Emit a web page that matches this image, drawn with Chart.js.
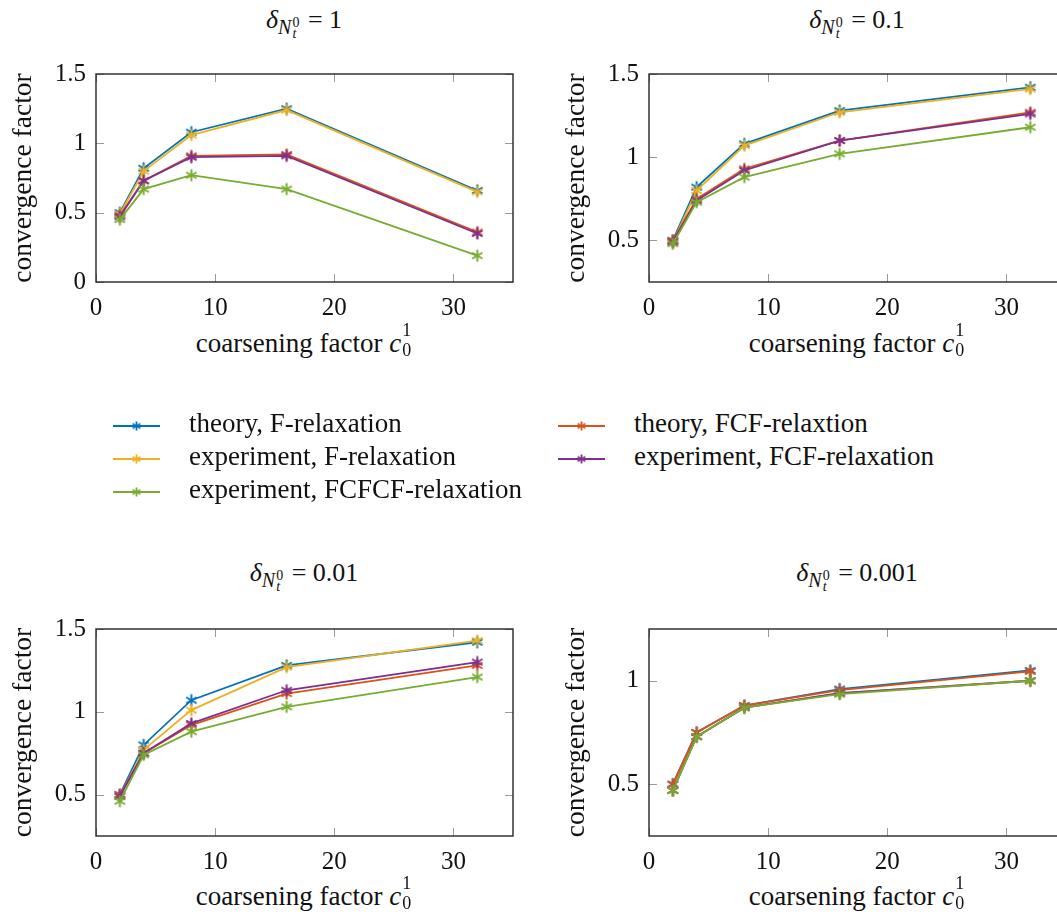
<!DOCTYPE html>
<html><head><meta charset="utf-8">
<script src="https://cdn.jsdelivr.net/npm/chart.js@4.4.1/dist/chart.umd.min.js"></script>
<style>
html,body{margin:0;padding:0;background:#fff;overflow:hidden;}
#wrap{position:relative;width:1057px;height:912px;overflow:hidden;background:#fff;}
canvas.pc{position:absolute;}
.t{position:absolute;transform:translateX(-50%);font-family:'Liberation Serif',serif;font-size:27px;line-height:30px;white-space:nowrap;color:#111;}
.tt{font-size:26px;}
.sb{font-size:20px;position:relative;top:6px;}
.stk{display:inline-block;position:relative;width:10px;height:10px;}
.stk .up{position:absolute;left:1px;top:-8px;font-size:14px;line-height:14px;font-style:normal;}
.stk .dn{position:absolute;left:1px;top:3px;font-size:14px;line-height:14px;font-style:italic;}
.xs{display:inline-block;position:relative;width:11px;height:10px;}
.xs .up{position:absolute;left:1px;top:-21px;font-size:18px;line-height:18px;}
.xs .dn{position:absolute;left:1px;top:-1px;font-size:18px;line-height:18px;}
.lg{position:absolute;height:30px;font-family:'Liberation Serif',serif;font-size:27px;line-height:30px;white-space:nowrap;color:#111;}
.lg canvas{position:absolute;left:0;top:8px;}
.lg span{position:absolute;left:76px;top:0;}
</style></head><body><div id="wrap">
<canvas id="c1" class="pc"></canvas>
<canvas id="c2" class="pc"></canvas>
<canvas id="c3" class="pc"></canvas>
<canvas id="c4" class="pc"></canvas>
<div class="t tt" style="left:304px;top:5px"><i>δ</i><span class="sb"><i>N</i><span class="stk"><span class="up">0</span><span class="dn">t</span></span></span> = 1</div>
<div class="t tt" style="left:857px;top:5px"><i>δ</i><span class="sb"><i>N</i><span class="stk"><span class="up">0</span><span class="dn">t</span></span></span> = 0.1</div>
<div class="t tt" style="left:304px;top:558px"><i>δ</i><span class="sb"><i>N</i><span class="stk"><span class="up">0</span><span class="dn">t</span></span></span> = 0.01</div>
<div class="t tt" style="left:857px;top:558px"><i>δ</i><span class="sb"><i>N</i><span class="stk"><span class="up">0</span><span class="dn">t</span></span></span> = 0.001</div>
<div class="t" style="left:304px;top:328px">coarsening factor <i>c</i><span class="xs"><span class="up">1</span><span class="dn">0</span></span></div>
<div class="t" style="left:857px;top:328px">coarsening factor <i>c</i><span class="xs"><span class="up">1</span><span class="dn">0</span></span></div>
<div class="t" style="left:304px;top:881px">coarsening factor <i>c</i><span class="xs"><span class="up">1</span><span class="dn">0</span></span></div>
<div class="t" style="left:857px;top:881px">coarsening factor <i>c</i><span class="xs"><span class="up">1</span><span class="dn">0</span></span></div>
<div id="legend"></div>
</div>
<script>
// ---------- data ----------
const coarsening = [2, 4, 8, 16, 32];
const xTickValues = [0, 10, 20, 30];

const seriesLabels = ['theory, F-relaxation', 'experiment, F-relaxation', 'experiment, FCFCF-relaxation',
                      'theory, FCF-relaxtion', 'experiment, FCF-relaxation'];

// delta = 1
const theoryF_1     = [0.50, 0.82, 1.08, 1.25, 0.66];
const expF_1        = [0.49, 0.80, 1.06, 1.24, 0.65];
const expFCFCF_1    = [0.45, 0.67, 0.77, 0.67, 0.19];
const theoryFCF_1   = [0.48, 0.73, 0.91, 0.92, 0.36];
const expFCF_1      = [0.47, 0.73, 0.90, 0.91, 0.35];
const yTicks_1      = [0, 0.5, 1, 1.5];

// delta = 0.1
const theoryF_2     = [0.50, 0.82, 1.08, 1.28, 1.42];
const expF_2        = [0.49, 0.80, 1.07, 1.27, 1.41];
const expFCFCF_2    = [0.48, 0.73, 0.88, 1.02, 1.18];
const theoryFCF_2   = [0.50, 0.75, 0.93, 1.10, 1.27];
const expFCF_2      = [0.49, 0.74, 0.92, 1.10, 1.26];
const yTicks_2      = [0.5, 1, 1.5];

// delta = 0.01
const theoryF_3     = [0.50, 0.80, 1.07, 1.28, 1.42];
const expF_3        = [0.49, 0.77, 1.01, 1.27, 1.43];
const expFCFCF_3    = [0.46, 0.74, 0.88, 1.03, 1.21];
const theoryFCF_3   = [0.50, 0.75, 0.92, 1.11, 1.28];
const expFCF_3      = [0.49, 0.75, 0.93, 1.13, 1.30];
const yTicks_3      = [0.5, 1, 1.5];

// delta = 0.001
const theoryF_4     = [0.50, 0.75, 0.88, 0.96, 1.05];
const expF_4        = [0.47, 0.73, 0.87, 0.94, 1.00];
const expFCFCF_4    = [0.47, 0.73, 0.87, 0.935, 1.00];
const theoryFCF_4   = [0.50, 0.75, 0.88, 0.955, 1.045];
const expFCF_4      = [0.47, 0.73, 0.87, 0.94, 1.00];
const yTicks_4      = [0.5, 1];

// ---------- styles ----------
const colors = ['#0072BD', '#EDB120', '#77AC30', '#D95319', '#7E2F8E'];
const drawOrder = [4, 3, 0, 2, 1]; // lower = drawn on top

Chart.defaults.font.family = "'Liberation Serif', serif";
Chart.defaults.color = '#111';

function asterisk(color, r, lw) {
  const s = 2 * Math.ceil(r + lw) + 1;
  const c = document.createElement('canvas');
  c.width = s; c.height = s;
  const g = c.getContext('2d');
  g.strokeStyle = color; g.lineWidth = lw;
  const m = s / 2;
  for (const a of [90, 30, 150]) {
    const rad = a * Math.PI / 180;
    g.beginPath();
    g.moveTo(m - r * Math.cos(rad), m - r * Math.sin(rad));
    g.lineTo(m + r * Math.cos(rad), m + r * Math.sin(rad));
    g.stroke();
  }
  return c;
}
const markers = colors.map(c => asterisk(c, 6, 2));

const framePlugin = {
  id: 'frame',
  afterDraw(chart) {
    const { ctx, chartArea: a, scales: { x, y } } = chart;
    ctx.save();
    ctx.strokeStyle = '#9a9a9a';
    ctx.lineWidth = 1;
    const tl = 8;
    x.ticks.forEach(t => {
      const px = Math.round(x.getPixelForValue(t.value)) + 0.5;
      ctx.beginPath(); ctx.moveTo(px, a.bottom); ctx.lineTo(px, a.bottom - tl); ctx.stroke();
      ctx.beginPath(); ctx.moveTo(px, a.top); ctx.lineTo(px, a.top + tl); ctx.stroke();
    });
    y.ticks.forEach(t => {
      const py = Math.round(y.getPixelForValue(t.value)) + 0.5;
      ctx.beginPath(); ctx.moveTo(a.left, py); ctx.lineTo(a.left + tl, py); ctx.stroke();
      ctx.beginPath(); ctx.moveTo(a.right, py); ctx.lineTo(a.right - tl, py); ctx.stroke();
    });
    ctx.strokeStyle = '#262626';
    ctx.lineWidth = 1.4;
    ctx.strokeRect(a.left, a.top, a.right - a.left, a.bottom - a.top);
    ctx.restore();
  }
};

const panels = [
  { id: 'c1', left: 0,   top: 49,  plotH: 217, series: [theoryF_1, expF_1, expFCFCF_1, theoryFCF_1, expFCF_1], yMin: 0,    yMax: 1.5,  yTicks: yTicks_1 },
  { id: 'c2', left: 553, top: 49,  plotH: 217, series: [theoryF_2, expF_2, expFCFCF_2, theoryFCF_2, expFCF_2], yMin: 0.25, yMax: 1.5,  yTicks: yTicks_2 },
  { id: 'c3', left: 0,   top: 604, plotH: 216, series: [theoryF_3, expF_3, expFCFCF_3, theoryFCF_3, expFCF_3], yMin: 0.25, yMax: 1.5,  yTicks: yTicks_3 },
  { id: 'c4', left: 553, top: 604, plotH: 216, series: [theoryF_4, expF_4, expFCFCF_4, theoryFCF_4, expFCF_4], yMin: 0.25, yMax: 1.25, yTicks: yTicks_4 },
];

const Y_W = 96, X_H = 45, PAD_T = 16, PAD_R = 10, PLOT_W = 417;

panels.forEach(p => {
  const cv = document.getElementById(p.id);
  const W = Y_W + PLOT_W + PAD_R, H = PAD_T + p.plotH + X_H;
  cv.width = W; cv.height = H;
  cv.style.left = p.left + 'px'; cv.style.top = p.top + 'px';
  cv.style.width = W + 'px'; cv.style.height = H + 'px';
  new Chart(cv, {
    type: 'line',
    data: {
      datasets: p.series.map((vals, i) => ({
        label: seriesLabels[i],
        data: coarsening.map((c, k) => ({ x: c, y: vals[k] })),
        borderColor: colors[i],
        backgroundColor: colors[i],
        borderWidth: 1.8,
        pointStyle: markers[i],
        pointRadius: 6,
        tension: 0,
        fill: false,
        order: drawOrder[i]
      }))
    },
    options: {
      responsive: false,
      animation: false,
      devicePixelRatio: 1,
      events: [],
      layout: { padding: { top: PAD_T, right: PAD_R, left: 0, bottom: 0 } },
      plugins: { legend: { display: false }, tooltip: { enabled: false }, title: { display: false } },
      scales: {
        x: {
          type: 'linear', min: 0, max: 35,
          afterBuildTicks: s => { s.ticks = xTickValues.map(v => ({ value: v })); },
          afterFit: s => { s.height = X_H; },
          grid: { display: false, drawTicks: false },
          border: { display: false },
          ticks: { font: { size: 25 }, color: '#111', padding: 11, maxRotation: 0, callback: v => String(v) }
        },
        y: {
          type: 'linear', min: p.yMin, max: p.yMax,
          afterBuildTicks: s => { s.ticks = p.yTicks.map(v => ({ value: v })); },
          afterFit: s => { s.width = Y_W; },
          grid: { display: false, drawTicks: false },
          border: { display: false },
          ticks: { font: { size: 25 }, color: '#111', padding: 10, callback: v => String(v) },
          title: { display: true, text: 'convergence factor', font: { size: 27.5 }, color: '#111', padding: { top: 7, bottom: 0 } }
        }
      }
    },
    plugins: [framePlugin]
  });
});

// ---------- legend (two columns, column-major) ----------
const legendPos = [
  { x: 113, y: 426 }, { x: 113, y: 459 }, { x: 113, y: 492 },
  { x: 558, y: 426 }, { x: 558, y: 459 }
];
const legendEl = document.getElementById('legend');
seriesLabels.forEach((lab, i) => {
  const d = document.createElement('div');
  d.className = 'lg';
  d.style.left = legendPos[i].x + 'px';
  d.style.top = (legendPos[i].y - 18) + 'px';
  const c = document.createElement('canvas');
  c.width = 47; c.height = 20;
  const g = c.getContext('2d');
  g.strokeStyle = colors[i]; g.lineWidth = 1.8;
  g.beginPath(); g.moveTo(0, 10); g.lineTo(47, 10); g.stroke();
  const mk = asterisk(colors[i], 4.5, 1.8);
  g.drawImage(mk, 23.5 - mk.width / 2, 10 - mk.height / 2);
  d.appendChild(c);
  const s = document.createElement('span');
  s.textContent = lab;
  d.appendChild(s);
  legendEl.appendChild(d);
});
</script>
</body></html>
